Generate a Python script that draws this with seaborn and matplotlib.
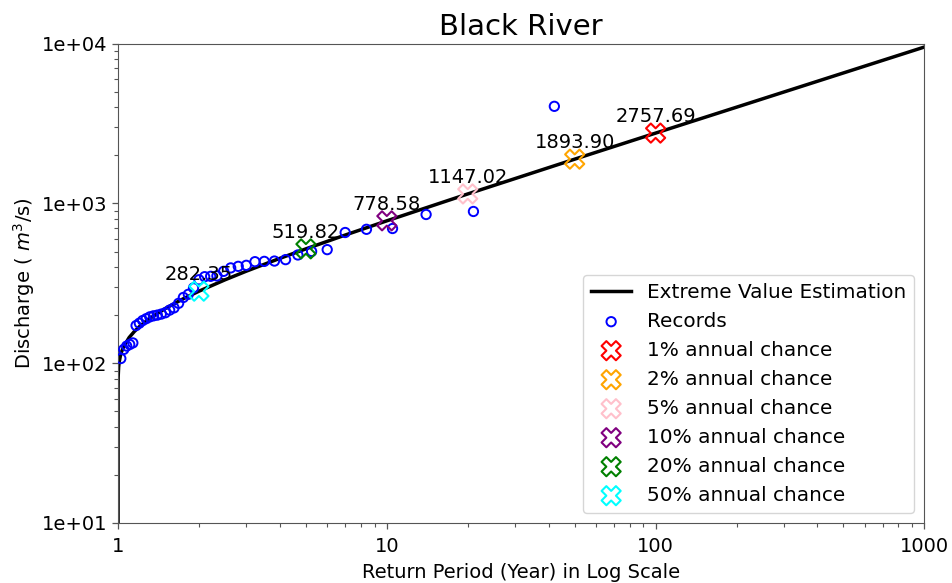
import matplotlib
matplotlib.use("Agg")
import matplotlib.pyplot as plt
from matplotlib.ticker import FuncFormatter, LogLocator
import pandas as pd
import seaborn as sns

# Fitted extreme value curve (return period in years, discharge in m3/s)
curve_period = [1.0, 1.0001, 1.001, 1.005, 1.01, 1.02, 1.03, 1.05, 1.1, 1.15, 1.2,
                1.3, 1.5, 1.75, 2.0, 2.5, 3.0, 4.0, 5.0, 7.0, 10.0, 20.0, 50.0,
                100.0, 200.0, 500.0, 1000.0]
curve_discharge = [0.0, 70.2, 81.9, 94.5, 101.8, 111.0, 117.5, 127.3, 144.9, 158.0,
                   169.3, 188.7, 220.3, 253.4, 282.35, 332.7, 376.8, 453.3, 519.82,
                   634.2, 778.58, 1147.02, 1893.90, 2757.69, 4006.0, 6565.0, 9535.0]

# Annual maximum records with their plotting-position return periods
record_period = [42.0, 21.0, 14.0, 10.5, 8.4, 7.0, 6.0, 5.25, 4.667, 4.2, 3.818,
                 3.5, 3.231, 3.0, 2.8, 2.625, 2.471, 2.333, 2.211, 2.1, 2.0, 1.909,
                 1.826, 1.75, 1.68, 1.615, 1.556, 1.5, 1.448, 1.4, 1.355, 1.3125,
                 1.273, 1.235, 1.2, 1.167, 1.135, 1.105, 1.077, 1.05, 1.024]
record_discharge = [4056, 891, 853, 697, 689, 658, 514, 501, 476, 445, 436,
                    434, 432, 410, 404, 395, 376, 352, 350, 348, 333, 296,
                    270, 258, 237, 222, 215, 207, 203, 200, 198, 195,
                    190, 185, 178, 172, 134, 131, 128, 122, 107]

# Design events
event_labels = ["1% annual chance", "2% annual chance", "5% annual chance",
                "10% annual chance", "20% annual chance", "50% annual chance"]
event_period = [100, 50, 20, 10, 5, 2]
event_discharge = [2757.69, 1893.90, 1147.02, 778.58, 519.82, 282.35]
event_colors = ["red", "orange", "pink", "purple", "green", "cyan"]

plt.rcParams["font.family"] = ["DejaVu Sans"]

fig = plt.figure(figsize=(9.52, 5.83), dpi=100)
ax = fig.add_axes([0.124, 0.103, 0.847, 0.822])

curve_df = pd.DataFrame({"period": curve_period, "discharge": curve_discharge})
records_df = pd.DataFrame({"period": record_period, "discharge": record_discharge})

sns.lineplot(data=curve_df, x="period", y="discharge", ax=ax, color="black",
             linewidth=2.5, sort=False, estimator=None,
             label="Extreme Value Estimation")
sns.scatterplot(data=records_df, x="period", y="discharge", ax=ax, marker="o",
                s=45, facecolor="none", edgecolor="blue", linewidth=1.4,
                label="Records", zorder=3)

for lab, t, q, c in zip(event_labels, event_period, event_discharge, event_colors):
    ev = pd.DataFrame({"period": [t], "discharge": [q]})
    sns.scatterplot(data=ev, x="period", y="discharge", ax=ax, marker="X",
                    s=190, facecolor="none", edgecolor=c, linewidth=1.5,
                    label=lab, zorder=4)
    ax.annotate(f"{q:.2f}", (t, q), xytext=(0, 5), textcoords="offset points",
                ha="center", va="bottom", fontsize=14, zorder=5)

ax.set_xscale("log")
ax.set_yscale("log")
ax.set_xlim(1, 1000)
ax.set_ylim(10, 10000)
ax.xaxis.set_minor_locator(LogLocator(base=10, subs="auto", numticks=12))
ax.yaxis.set_minor_locator(LogLocator(base=10, subs="auto", numticks=12))
ax.xaxis.set_major_formatter(FuncFormatter(lambda v, p: f"{v:g}"))
ax.yaxis.set_major_formatter(FuncFormatter(lambda v, p: f"{v:.0e}"))
ax.tick_params(axis="both", which="major", labelsize=14, length=4, width=0.9,
               color="#555555")
ax.tick_params(axis="x", which="major", pad=6)
ax.tick_params(axis="both", which="minor", length=2.6, width=0.8,
               color="#555555")
for sp in ax.spines.values():
    sp.set_color("#555555")

ax.set_title("Black River", fontsize=21)
ax.set_xlabel("Return Period (Year) in Log Scale", fontsize=14, labelpad=5)
ax.set_ylabel("Discharge ( $m^3$/s)", fontsize=14)

ax.legend(loc="lower right", fontsize=14.4)

fig.savefig("out.png", dpi=100)
